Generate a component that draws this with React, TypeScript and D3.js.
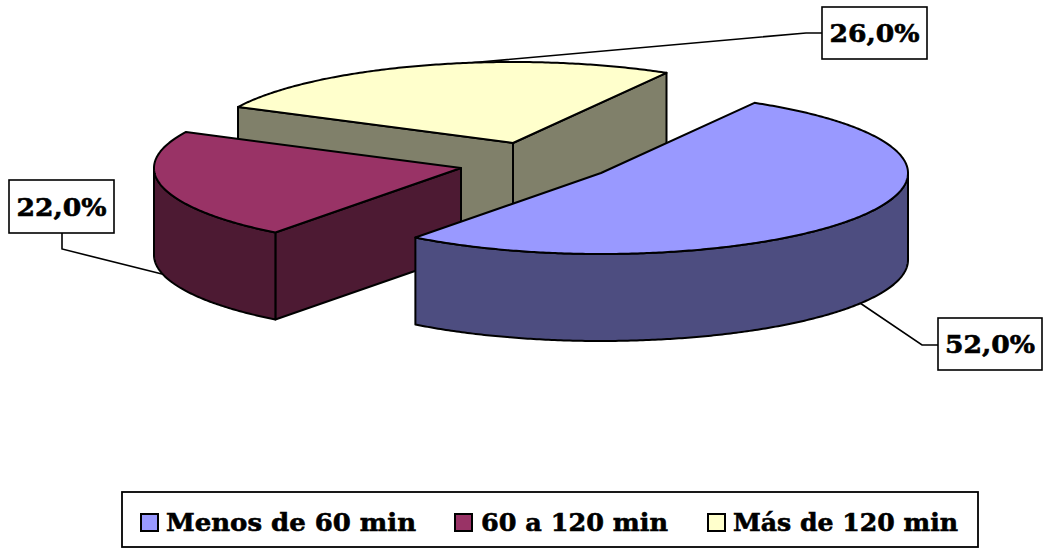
import React from "react";
import * as d3 from "d3";

// Share of respondents per time band
const categories = ["Menos de 60 min", "60 a 120 min", "Más de 120 min"];
const shares = [52, 22, 26];
const valueLabels = ["52,0%", "22,0%", "26,0%"];

const topColors = ["#9999FF", "#993366", "#FFFFCC"];
const wallColors = ["#4D4D80", "#4D1A33", "#80806A"];

const WIDTH = 1045;
const HEIGHT = 548;
const RX = 307;
const RY = 81;
const DEPTH = 87;
const FONT = "'DejaVu Serif', serif";

// Each wedge is pulled away from the pie's middle, so each has its own apex
const apexes: [number, number][] = [
  [601, 173],
  [461, 168],
  [513, 143],
];

// Back-to-front painting order
const paintOrder = [2, 1, 0];

const labelBoxes = [
  { x: 938, y: 318, w: 104, h: 52 },
  { x: 9, y: 180, w: 105, h: 53 },
  { x: 822, y: 7, w: 105, h: 52 },
];
const leaders: [number, number][][] = [
  [[860, 303], [922, 345], [938, 345]],
  [[62, 233], [62, 249], [162, 274]],
  [[822, 33], [806, 33], [424, 67]],
];

const legendBox = { x: 122, y: 492, w: 856, h: 55 };
const legendItems = [
  { swatch: 141, text: 166, width: 250 },
  { swatch: 455, text: 481, width: 187 },
  { swatch: 708, text: 733, width: 225 },
];

const pie = d3
  .pie<number>()
  .sort(null)
  .startAngle((30 * Math.PI) / 180)
  .endAngle((390 * Math.PI) / 180);

const xOf = d3.scaleLinear().domain([-1, 1]);
const yOf = d3.scaleLinear().domain([-1, 1]);
const line = d3.line();

function rimPoint(cx: number, cy: number, a: number, drop = 0): [number, number] {
  xOf.range([cx - RX, cx + RX]);
  yOf.range([cy - RY, cy + RY]);
  return [xOf(Math.sin(a)), yOf(-Math.cos(a)) + drop];
}

function anglesBetween(a: number, b: number): number[] {
  const n = Math.max(2, Math.ceil(Math.abs(b - a) / 0.01));
  return d3.range(n + 1).map((i) => a + ((b - a) * i) / n);
}

function Wedge({ index, start, end }: { index: number; start: number; end: number }) {
  const [cx, cy] = apexes[index];
  const stroke = { stroke: "#000", strokeWidth: 2, strokeLinejoin: "round" as const };

  const rim = anglesBetween(start, end).map((a) => rimPoint(cx, cy, a));
  const top = line([[cx, cy], ...rim]) + "Z";

  const walls: React.ReactNode[] = [];

  // Straight cut faces are only seen when the wedge's body lies behind them
  const cutFace = (a: number, key: string) => {
    const p = rimPoint(cx, cy, a);
    const q = rimPoint(cx, cy, a, DEPTH);
    walls.push(
      <path
        key={key}
        d={line([[cx, cy], p, q, [cx, cy + DEPTH]]) + "Z"}
        fill={wallColors[index]}
        {...stroke}
      />
    );
  };
  if (Math.sin(start) < 0) cutFace(start, "start");
  if (Math.sin(end) > 0) cutFace(end, "end");

  // Curved outer face covers only the part of the rim turned toward the viewer
  const frontFrom = Math.max(start, Math.PI / 2);
  const frontTo = Math.min(end, (3 * Math.PI) / 2);
  if (frontFrom < frontTo) {
    const angles = anglesBetween(frontFrom, frontTo);
    const upper = angles.map((a) => rimPoint(cx, cy, a));
    const lower = angles.map((a) => rimPoint(cx, cy, a, DEPTH)).reverse();
    walls.push(
      <path key="outer" d={line([...upper, ...lower]) + "Z"} fill={wallColors[index]} {...stroke} />
    );
  }

  return (
    <g>
      {walls}
      <path d={top} fill={topColors[index]} {...stroke} />
    </g>
  );
}

export default function App() {
  const arcs = pie(shares);
  return (
    <svg
      width={WIDTH}
      height={HEIGHT}
      viewBox={`0 0 ${WIDTH} ${HEIGHT}`}
      style={{ position: "absolute", left: 0, top: 0, background: "#fff" }}
    >
      {leaders.map((pts, i) => (
        <path key={i} d={line(pts) ?? ""} fill="none" stroke="#000" strokeWidth={1.6} />
      ))}

      {paintOrder.map((i) => (
        <Wedge key={i} index={i} start={arcs[i].startAngle} end={arcs[i].endAngle} />
      ))}

      {labelBoxes.map((b, i) => (
        <g key={i}>
          <rect x={b.x} y={b.y} width={b.w} height={b.h} fill="#fff" stroke="#000" strokeWidth={1.6} />
          <text
            x={b.x + b.w / 2}
            y={b.y + b.h / 2 + 9}
            textAnchor="middle"
            fontFamily={FONT}
            fontWeight="bold"
            fontSize={25}
            textLength={90}
            lengthAdjust="spacingAndGlyphs"
            stroke="#000"
            strokeWidth={0.6}
          >
            {valueLabels[i]}
          </text>
        </g>
      ))}

      <rect
        x={legendBox.x}
        y={legendBox.y}
        width={legendBox.w}
        height={legendBox.h}
        fill="#fff"
        stroke="#000"
        strokeWidth={1.8}
      />
      {legendItems.map((item, i) => (
        <g key={i}>
          <rect
            x={item.swatch}
            y={514}
            width={17}
            height={17}
            fill={topColors[i]}
            stroke="#000"
            strokeWidth={2}
          />
          <text
            x={item.text}
            y={531}
            fontFamily={FONT}
            fontWeight="bold"
            fontSize={25}
            textLength={item.width}
            lengthAdjust="spacingAndGlyphs"
            stroke="#000"
            strokeWidth={0.6}
          >
            {categories[i]}
          </text>
        </g>
      ))}
    </svg>
  );
}
